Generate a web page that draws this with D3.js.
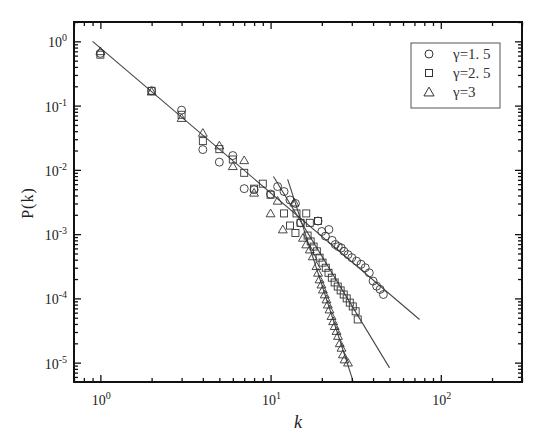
<!DOCTYPE html>
<html><head><meta charset="utf-8">
<script src="https://cdn.jsdelivr.net/npm/d3@7"></script>
<style>body{margin:0;background:#fff}svg{display:block}</style>
</head><body><svg id="c" width="550" height="439"></svg>
<script>
// ---------- data ----------
const seriesNames = ["γ=1. 5", "γ=2. 5", "γ=3"];
const circleK = [1,2,3,4,5,6,7,8,10,11,12,13,14,15,19,20,21,22,23,24,25,26,27,28.5,30,32,34,36,38,40,42,44,46];
const circleP = [0.65,0.17,0.085,0.0207,0.0132,0.0167,0.0051,0.0049,0.0042,0.0055,0.0046,0.0034,0.003,0.0015,0.0016,0.0011,0.00093,0.00118,0.0008,0.00069,0.00064,0.00061,0.00054,0.00048,0.00043,0.00038,0.00034,0.0003,0.00025,0.000186,0.000155,0.000138,0.000115];
const squareK = [1,2,3,4,5,6,7,8,9,10,12,13,14,14.2,15,16.2,17,19,16.5,17.2,17.9,18.7,19.4,20.2,21.1,21.9,22.9,23.8,24.8,25.8,26.9,28,29.2,30.4,31.6,32.5];
const squareP = [0.62,0.17,0.072,0.028,0.021,0.0145,0.009,0.0051,0.0061,0.0041,0.0021,0.00136,0.00104,0.0021,0.0015,0.0021,0.0015,0.0016,0.00095,0.00077,0.00064,0.00054,0.00043,0.00036,0.0003,0.00025,0.00021,0.000177,0.000153,0.000133,0.000115,0.0001,0.000086,0.000075,0.000063,0.000047];
const triangleK = [1,2,3,4,5,6,7,8,10,11,11.8,13.8,15.5,16.2,17,17.7,18.6,19,19.4,19.9,20.3,20.8,21.3,21.7,22.2,22.8,23.3,23.8,24.4,24.9,25.5,26.1,26.6,27.2,28.5];
const triangleP = [0.70,0.165,0.064,0.0376,0.0239,0.0114,0.0141,0.0044,0.0021,0.0033,0.00118,0.0031,0.000875,0.00069,0.000575,0.00045,0.000317,0.00025,0.000197,0.000164,0.000137,0.000115,0.000096,0.00008,0.000067,0.000053,0.000044,0.000037,0.000031,0.000026,0.00002,0.000017,0.0000134,0.0000112,0.00001];
const fitLines = [
  [[0.9, 1.0], [75, 4.7e-5]],
  [[10.4, 0.0079], [50, 8.3e-6]],
  [[12.6, 0.0071], [30.5, 5.2e-6]]
];
const xMajor = [1, 10, 100];
const xMinor = [0.7,0.8,0.9,2,3,4,5,6,7,8,9,20,30,40,50,60,70,80,90,200,300];
const yMajor = [1, 0.1, 0.01, 0.001, 0.0001, 0.00001];
const yMajorExp = ["0","-1","-2","-3","-4","-5"];
const xMajorExp = ["0","1","2"];
const yMinor = [];
[1e-6,1e-5,1e-4,1e-3,1e-2,1e-1,1].forEach(d=>{for(let m=2;m<=9;m++){const v=d*m; if(v>=5e-6 && v<=2.0001) yMinor.push(v);}});

// ---------- layout ----------
const L=74,R=522,T=22,B=382;
const svg=d3.select("#c");
const x=d3.scaleLog().domain([0.7,300]).range([L,R]);
const y=d3.scaleLog().domain([2,5e-6]).range([T,B]);
const font="'Liberation Serif','DejaVu Serif',serif";
const ink="#222";

svg.append("defs").append("clipPath").attr("id","clip")
  .append("rect").attr("x",L).attr("y",T).attr("width",R-L).attr("height",B-T);

const plot=svg.append("g").attr("clip-path","url(#clip)");

// fit lines
const lineGen=d3.line().x(d=>x(d[0])).y(d=>y(d[1]));
plot.selectAll("path.fit").data(fitLines).join("path").attr("class","fit")
  .attr("d",lineGen).attr("fill","none").attr("stroke","#444").attr("stroke-width",1.1);

const mk="#333";
// circles
plot.selectAll("circle.c").data(d3.zip(circleK,circleP)).join("circle").attr("class","c")
  .attr("cx",d=>x(d[0])).attr("cy",d=>y(d[1])).attr("r",4)
  .attr("fill","none").attr("stroke",mk).attr("stroke-width",0.9);
// squares
plot.selectAll("rect.s").data(d3.zip(squareK,squareP)).join("rect").attr("class","s")
  .attr("x",d=>x(d[0])-3.5).attr("y",d=>y(d[1])-3.5).attr("width",7).attr("height",7)
  .attr("fill","none").attr("stroke",mk).attr("stroke-width",0.9);
// triangles
const tri=d3.symbol().type(d3.symbolTriangle).size(34);
plot.selectAll("path.t").data(d3.zip(triangleK,triangleP)).join("path").attr("class","t")
  .attr("d",tri).attr("transform",d=>`translate(${x(d[0])},${y(d[1])+0.8})`)
  .attr("fill","none").attr("stroke",mk).attr("stroke-width",0.9);

// axes ticks (inward)
function ticks(axisFn, scale, vals, size, tr){
  const g=svg.append("g").attr("transform",tr)
    .call(axisFn(scale).tickValues(vals).tickSize(size).tickFormat(""));
  g.select(".domain").remove();
  g.selectAll("line").attr("stroke","#111").attr("stroke-width",1.3);
}
ticks(d3.axisBottom,x,xMajor,-7,`translate(0,${B})`);
ticks(d3.axisBottom,x,xMinor,-4,`translate(0,${B})`);
ticks(d3.axisTop,x,xMajor,-7,`translate(0,${T})`);
ticks(d3.axisTop,x,xMinor,-4,`translate(0,${T})`);
ticks(d3.axisLeft,y,yMajor,-7,`translate(${L},0)`);
ticks(d3.axisLeft,y,yMinor,-4,`translate(${L},0)`);
ticks(d3.axisRight,y,yMajor,-7,`translate(${R},0)`);
ticks(d3.axisRight,y,yMinor,-4,`translate(${R},0)`);

// frame
svg.append("rect").attr("x",L).attr("y",T).attr("width",R-L).attr("height",B-T)
  .attr("fill","none").attr("stroke","#111").attr("stroke-width",2);

// tick labels
const xl=svg.append("g").attr("font-family",font).attr("fill",ink);
xMajor.forEach((v,i)=>{
  const t=xl.append("text").attr("x",x(v)+1).attr("y",405).attr("text-anchor","middle").attr("font-size",14);
  t.append("tspan").text("10");
  t.append("tspan").attr("font-size",10).attr("dy",-6).text(xMajorExp[i]);
});
yMajor.forEach((v,i)=>{
  const t=xl.append("text").attr("x",67).attr("y",y(v)+6).attr("text-anchor","end").attr("font-size",14);
  t.append("tspan").text("10");
  t.append("tspan").attr("font-size",10).attr("dy",-6).text(yMajorExp[i]);
});

// axis titles
svg.append("text").attr("x",298).attr("y",428).attr("text-anchor","middle")
  .attr("font-family",font).attr("font-style","italic").attr("font-size",18).attr("fill",ink).text("k");
svg.append("text").attr("transform","translate(33,203) rotate(-90)").attr("text-anchor","middle")
  .attr("font-family",font).attr("font-size",16).attr("letter-spacing",1).attr("fill",ink).text("P(k)");

// legend
const lg=svg.append("g");
lg.append("rect").attr("x",411).attr("y",43).attr("width",89).attr("height",65)
  .attr("fill","#fff").attr("stroke","#555").attr("stroke-width",1);
const ly=[54,73,92];
lg.append("circle").attr("cx",429).attr("cy",ly[0]).attr("r",4).attr("fill","none").attr("stroke",mk);
lg.append("rect").attr("x",425.5).attr("y",ly[1]-3.5).attr("width",7).attr("height",7).attr("fill","none").attr("stroke",mk);
lg.append("path").attr("d",d3.symbol().type(d3.symbolTriangle).size(45)).attr("transform",`translate(429,${ly[2]+1})`).attr("fill","none").attr("stroke",mk);
seriesNames.forEach((s,i)=>{
  lg.append("text").attr("x",453).attr("y",ly[i]+5).attr("font-family",font).attr("font-size",15).attr("fill","#333").text(s);
});
</script></body></html>
